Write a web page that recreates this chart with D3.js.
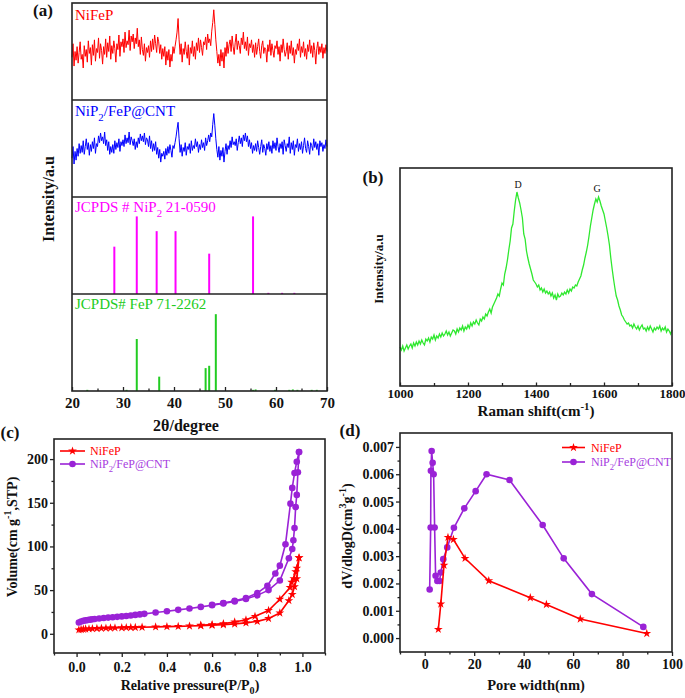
<!DOCTYPE html>
<html><head><meta charset="utf-8">
<script src="https://cdn.jsdelivr.net/npm/d3@7"></script>
<style>body{margin:0;background:#fff}svg{display:block}text{font-family:"Liberation Serif","Times New Roman",serif}</style>
</head><body><svg id="c" width="685" height="698"></svg>
<script>
// ---------- (a) XRD ----------
const xrdStart = 20, xrdStep = 0.2;
const xrdNiFeP = [
44,58,35,50,41, 55,38,49,60,42, 47,33,56,45,52, 39,61,48,54,36, 57,46,62,40,53,
49,64,43,58,51, 37,55,47,63,44, 59,50,66,42,56, 48,61,53,39,58, 52,67,45,60,55,
63,49,70,54,61, 57,72,51,66,60, 68,53,64,58,74, 55,62,47,65,52, 46,58,40,54,49,
56,44,61,50,63, 52,67,58,49,65, 60,48,57,42,53, 45,55,36,50,41, 52,34,47,40,55,
48,55,62,70,84, 62,47,58,39,53, 47,60,50,43,57, 36,54,48,61,45, 55,42,59,51,64,
49,62,54,46,60, 57,65,52,68,59, 63,56,71,80,93, 78,62,50,38,47, 35,52,40,49,33,
54,45,60,48,57, 62,50,66,55,47, 59,68,52,61,56, 48,64,57,70,53, 60,51,65,46,58,
54,62,49,57,44, 59,47,55,63,50, 43,56,61,48,54, 52,39,57,50,62, 46,58,51,44,56,
53,61,47,55,40, 57,49,63,52,45, 50,59,42,56,48, 61,46,54,38,52, 47,58,51,63,44,
55,49,60,45,53, 42,57,50,62,48, 56,44,59,51,37, 53,60,47,55,49, 58,43,54,48,57,
50];
const xrdCNT = [
40,52,34,47,38, 50,42,55,45,53, 46,58,44,52,60, 49,56,43,54,47, 57,50,61,45,55,
52,63,56,66,58, 62,55,67,53,59, 48,57,44,52,46, 54,45,58,49,56, 51,60,47,57,53,
59,52,64,55,61, 56,67,54,62,58, 53,60,49,57,51, 61,55,65,58,63, 57,66,54,61,59,
52,63,50,58,47, 55,48,57,44,51, 40,49,36,45,42, 47,39,50,43,52, 45,54,48,41,53,
50,56,62,70,77, 60,46,54,42,51, 47,56,43,52,49, 55,45,58,48,53, 50,60,52,57,46,
54,49,59,51,56, 48,61,53,58,64, 57,66,62,75,86, 74,60,49,41,52, 38,48,42,51,36,
47,55,44,53,49, 58,51,62,54,57, 53,60,48,56,63, 55,61,52,64,58, 66,57,63,52,59,
50,56,45,53,48, 55,47,58,51,44, 52,59,46,54,50, 43,55,49,57,47, 53,45,58,50,56,
48,61,52,46,55, 50,57,44,59,53, 47,55,51,62,45, 56,49,58,43,54, 51,60,47,55,49,
57,45,53,61,50, 46,58,52,44,56, 53,48,60,51,57, 49,55,43,58,52, 56,47,54,50,59,
52];
const nip2Pos = [28.3, 32.7, 36.6, 40.3, 46.9, 55.5, 58.5, 61.2, 63.6];
const nip2Int = [61, 100, 81, 81, 52, 100, 1.5, 1.5, 1.5];
const fepPos = [23.0, 30.7, 32.7, 37.1, 46.2, 46.9, 48.2, 55.5, 56.0, 59.8, 62.6, 63.3, 64.2, 67.0, 68.0];
const fepInt = [1.5, 1.5, 67, 18.5, 29.5, 32.5, 99, 1.5, 2, 1.5, 1.5, 2, 1.5, 1.5, 1.5];
const xrdTicks = [20, 30, 40, 50, 60, 70];

// ---------- (b) Raman ----------
const ramanStart = 1000, ramanStep = 4;
const ramanInt = [
39,36,40,35,38,41,37,40,42,38,
43,40,44,41,45,42,46,43,41,47,
45,48,44,49,47,51,46,50,48,52,
49,53,50,52,55,51,54,50,53,56,
55,52,57,54,58,56,60,55,59,57,
61,58,63,60,64,62,66,63,61,67,
65,69,67,72,70,74,77,73,79,82,
85,88,92,90,97,103,101,112,118,126,
136,145,158,162,175,186,194,188,183,176,
168,152,147,135,128,122,117,112,106,104,
102,99,101,96,98,94,97,93,95,92,
94,90,93,88,91,86,92,89,90,93,
91,94,92,96,93,97,95,99,98,101,
100,104,107,110,116,121,128,134,141,150,
160,168,176,182,187,184,189,185,180,176,
172,165,158,150,141,128,117,107,98,90,
86,80,76,71,69,66,64,62,63,60,
61,58,62,59,57,60,56,59,61,57,
58,55,59,56,60,57,54,58,56,59,
57,60,55,58,56,59,54,57,55,52,
56];
const ramanTicks = [1000, 1200, 1400, 1600, 1800];

// ---------- (c) N2 isotherms ----------
const niAdsP = [0.01,0.02,0.03,0.04,0.055,0.07,0.09,0.11,0.13,0.15,0.17,0.2,0.22,0.24,0.26,0.29,0.35,0.4,0.45,0.5,0.55,0.6,0.65,0.7,0.75,0.8,0.85,0.9,0.94,0.955,0.965,0.975,0.985];
const niAdsV = [4.5,5,5.2,5.5,5.7,5.9,6.1,6.3,6.5,6.7,6.8,7,7.1,7.2,7.3,7.5,7.9,8.2,8.5,8.9,9.3,9.8,10.4,11.3,12.5,14.2,17.6,23.8,38,45,54,63,87];
const niDesP = [0.985,0.975,0.97,0.962,0.952,0.945,0.9,0.85,0.79,0.75,0.7,0.65,0.6,0.55];
const niDesV = [87,75,71,63,59,53,39.5,26.7,20,16,13.5,11.6,10.5,9.8];
const cntAdsP = [0.01,0.02,0.03,0.04,0.05,0.06,0.07,0.08,0.1,0.12,0.14,0.16,0.18,0.2,0.22,0.24,0.26,0.28,0.3,0.35,0.4,0.45,0.5,0.55,0.6,0.65,0.7,0.75,0.8,0.85,0.9,0.94,0.955,0.96,0.965,0.97,0.975,0.98,0.985];
const cntAdsV = [13,14,14.8,15.3,15.8,16.2,16.6,16.9,17.5,18,18.5,19,19.4,19.9,20.4,21,21.6,22.2,22.8,24.3,25.8,27.4,29,30.8,32.7,34.8,37,39.8,44,50,61,86.5,97,107,121,145,159,185,208];
const cntDesP = [0.985,0.975,0.965,0.955,0.947,0.925,0.9,0.88,0.845,0.8,0.75,0.7,0.65,0.6];
const cntDesV = [208,197,184,167,149,102.5,78,69,55,46.5,41,37.8,35.3,33.3];
const isoXTicks = [0, 0.2, 0.4, 0.6, 0.8, 1.0];
const isoYTicks = [0, 50, 100, 150, 200];

// ---------- (d) pore size distribution ----------
const niPoreW = [5.5, 6.5, 7.8, 9.4, 11.6, 16.3, 25.9, 42.7, 49.2, 62.9, 89.8];
const niPoreD = [0.00032, 0.00125, 0.00267, 0.00369, 0.00361, 0.00292, 0.0021, 0.00148, 0.00123, 0.0007, 0.00017];
const cntPoreW = [2.0, 2.4, 2.5, 2.8, 3.2, 3.6, 4.0, 4.4, 5.1, 6.0, 6.5, 7.5, 9.1, 11.8, 16.0, 20.6, 25.0, 34.3, 47.7, 56.2, 67.6, 88.4];
const cntPoreD = [0.00178, 0.00405, 0.00613, 0.00685, 0.00642, 0.006, 0.00405, 0.00228, 0.00209, 0.00209, 0.0024, 0.00289, 0.00332, 0.00404, 0.00475, 0.00538, 0.006, 0.00579, 0.00414, 0.00292, 0.00161, 0.00041];
const poreXTicks = [0, 20, 40, 60, 80, 100];
const poreYTicks = [0, 0.001, 0.002, 0.003, 0.004, 0.005, 0.006, 0.007];

const RED = "#ff0000", BLUE = "#0000ff", MAG = "#ff00ff", GRN = "#22cc22", RAMAN = "#2fe82f", PUR = "#9a22d6", PURT = "#a63ce0";
const svg = d3.select("#c");

function rich(t, parts, fs) {
  let shift = 0;
  parts.forEach(([s, k]) => {
    const target = k === "sub" ? fs * 0.3 : k === "sup" ? -fs * 0.4 : 0;
    t.append("tspan").attr("dy", target - shift).attr("font-size", k === "n" ? fs : fs * 0.72).text(s);
    shift = target;
  });
  return t;
}
function frame(x0, y0, x1, y1) {
  svg.append("rect").attr("x", x0).attr("y", y0).attr("width", x1 - x0).attr("height", y1 - y0)
    .attr("fill", "none").attr("stroke", "#222").attr("stroke-width", 1.6);
}
function styleAxis(g, fs) {
  g.select(".domain").remove();
  g.selectAll("line").attr("stroke", "#222").attr("stroke-width", 1.3);
  g.selectAll("text").attr("font-size", fs).attr("font-weight", "bold").attr("fill", "#111")
    .attr("font-family", '"Liberation Serif","Times New Roman",serif');
}
function label(x, y, txt, fs, opts = {}) {
  const t = svg.append("text").attr("x", x).attr("y", y).attr("font-size", fs)
    .attr("font-weight", opts.bold === false ? "normal" : "bold").attr("fill", opts.color || "#111")
    .attr("text-anchor", opts.anchor || "middle");
  if (opts.rotate) t.attr("transform", `rotate(-90,${x},${y})`);
  if (Array.isArray(txt)) rich(t, txt, fs); else t.text(txt);
  return t;
}

// ================= Panel (a) =================
{
  const x = d3.scaleLinear().domain([20, 70]).range([72, 327]);
  const tops = [3, 100, 197, 294], H = 97;
  const angles = xrdNiFeP.map((_, i) => xrdStart + i * xrdStep);
  const traces = [[xrdNiFeP, RED], [xrdCNT, BLUE]];
  traces.forEach(([vals, col], k) => {
    const y = d3.scaleLinear().domain([0, 100]).range([tops[k] + H, tops[k]]);
    svg.append("path").datum(vals).attr("fill", "none").attr("stroke", col).attr("stroke-width", 1)
      .attr("d", d3.line().x((d, i) => x(angles[i])).y(d => y(d)));
  });
  const sticks = [[nip2Pos, nip2Int, MAG, 2], [fepPos, fepInt, GRN, 3]];
  sticks.forEach(([pos, inten, col, k]) => {
    const y = d3.scaleLinear().domain([0, 125]).range([tops[k] + H, tops[k]]);
    svg.append("g").selectAll("line").data(pos).join("line")
      .attr("x1", d => x(d)).attr("x2", d => x(d))
      .attr("y1", y(0)).attr("y2", (d, i) => y(inten[i]))
      .attr("stroke", col).attr("stroke-width", 2);
  });
  [100, 197, 294].forEach(yy => svg.append("line").attr("x1", 72).attr("x2", 327).attr("y1", yy).attr("y2", yy)
    .attr("stroke", "#222").attr("stroke-width", 1.6));
  const gMinor = svg.append("g").attr("transform", "translate(0,391)")
    .call(d3.axisBottom(x).tickValues([25, 35, 45, 55, 65]).tickSize(-2.5).tickFormat(""));
  styleAxis(gMinor, 15);
  const gx = svg.append("g").attr("transform", "translate(0,391)")
    .call(d3.axisBottom(x).tickValues(xrdTicks).tickSize(-4).tickPadding(6).tickFormat(d3.format("d")));
  styleAxis(gx, 15);
  frame(72, 3, 327, 391);
  label(75, 20, "NiFeP", 15, { bold: false, color: RED, anchor: "start" });
  label(75, 116, [["NiP", "n"], ["2", "sub"], ["/FeP@CNT", "n"]], 15, { bold: false, color: BLUE, anchor: "start" });
  label(75, 212, [["JCPDS # NiP", "n"], ["2", "sub"], [" 21-0590", "n"]], 15, { bold: false, color: MAG, anchor: "start" });
  label(75, 309, "JCPDS# FeP 71-2262", 15, { bold: false, color: GRN, anchor: "start" });
  label(186, 431, "2θ/degree", 16);
  label(54, 199, "Intensity/a.u", 16, { rotate: true });
  label(43, 16, "(a)", 17);
}

// ================= Panel (b) =================
{
  const x = d3.scaleLinear().domain([1000, 1800]).range([400, 672]);
  const y = d3.scaleLinear().domain([0, 218]).range([386, 168]);
  svg.append("path").datum(ramanInt).attr("fill", "none").attr("stroke", RAMAN).attr("stroke-width", 1.3)
    .attr("d", d3.line().x((d, i) => x(ramanStart + i * ramanStep)).y(d => y(d)));
  const gMinor = svg.append("g").attr("transform", "translate(0,386)")
    .call(d3.axisBottom(x).tickValues([1100, 1300, 1500, 1700]).tickSize(-3).tickFormat(""));
  styleAxis(gMinor, 13);
  const gx = svg.append("g").attr("transform", "translate(0,386)")
    .call(d3.axisBottom(x).tickValues(ramanTicks).tickSize(-3.5).tickPadding(3).tickFormat(d3.format("d")));
  styleAxis(gx, 13);
  frame(400, 168, 672, 386);
  label(518, 188, "D", 10, { bold: false });
  label(597, 192, "G", 10, { bold: false });
  label(536, 416, [["Raman shift(cm", "n"], ["-1", "sup"], [")", "n"]], 15);
  label(383, 269, "Intensity/a.u", 13, { rotate: true });
  label(373, 183, "(b)", 17);
}

// ================= Panel (c) =================
{
  const x = d3.scaleLinear().domain([-0.1, 1.1]).range([54, 325]);
  const y = d3.scaleLinear().domain([-22, 223]).range([653, 439]);
  const line = d3.line().x(d => x(d[0])).y(d => y(d[1]));
  const zip = (a, b) => a.map((v, i) => [v, b[i]]);
  const star = d3.symbol(d3.symbolStar, 24)();
  const series = [
    [zip(niAdsP, niAdsV), zip(niDesP, niDesV), RED, "star"],
    [zip(cntAdsP, cntAdsV), zip(cntDesP, cntDesV), PUR, "circle"]
  ];
  series.forEach(([ads, des, col, m]) => {
    [ads, des].forEach(pts => {
      svg.append("path").datum(pts).attr("fill", "none").attr("stroke", col).attr("stroke-width", 1.6).attr("d", line);
      const g = svg.append("g");
      if (m === "star") g.selectAll("path").data(pts).join("path").attr("d", star)
        .attr("transform", d => `translate(${x(d[0])},${y(d[1])})`).attr("fill", col);
      else g.selectAll("circle").data(pts).join("circle").attr("cx", d => x(d[0])).attr("cy", d => y(d[1]))
        .attr("r", 3.3).attr("fill", col);
    });
  });
  const gxm = svg.append("g").attr("transform", "translate(0,653)")
    .call(d3.axisBottom(x).tickValues([-0.1, 0.1, 0.3, 0.5, 0.7, 0.9, 1.1]).tickSize(2.5).tickFormat(""));
  styleAxis(gxm, 14);
  const gx = svg.append("g").attr("transform", "translate(0,653)")
    .call(d3.axisBottom(x).tickValues(isoXTicks).tickSize(4).tickPadding(5).tickFormat(d3.format(".1f")));
  styleAxis(gx, 14);
  const gym = svg.append("g").attr("transform", "translate(54,0)")
    .call(d3.axisLeft(y).tickValues([25, 75, 125, 175]).tickSize(2.5).tickFormat(""));
  styleAxis(gym, 14);
  const gy = svg.append("g").attr("transform", "translate(54,0)")
    .call(d3.axisLeft(y).tickValues(isoYTicks).tickSize(4).tickPadding(2).tickFormat(d3.format("d")));
  styleAxis(gy, 14);
  frame(54, 439, 325, 653);
  [[RED, "star", 451, [["NiFeP", "n"]]], [PUR, "circle", 464, [["NiP", "n"], ["2", "sub"], ["/FeP@CNT", "n"]]]].forEach(([col, m, yy, txt]) => {
    svg.append("line").attr("x1", 60).attr("x2", 85).attr("y1", yy).attr("y2", yy).attr("stroke", col).attr("stroke-width", 1.6);
    if (m === "star") svg.append("path").attr("d", star).attr("transform", `translate(72.5,${yy})`).attr("fill", col);
    else svg.append("circle").attr("cx", 72.5).attr("cy", yy).attr("r", 3.3).attr("fill", col);
    label(90, yy + 4, txt, 12, { bold: false, color: col === PUR ? PURT : col, anchor: "start" });
  });
  label(190, 690, [["Relative pressure(P/P", "n"], ["0", "sub"], [")", "n"]], 14);
  label(17, 537, [["Volume(cm g", "n"], ["-1", "sup"], [",STP)", "n"]], 14, { rotate: true });
  label(10, 438, "(c)", 17);
}

// ================= Panel (d) =================
{
  const x = d3.scaleLinear().domain([-10, 100]).range([400, 672]);
  const y = d3.scaleLinear().domain([-0.00051, 0.00751]).range([652, 433]);
  const line = d3.line().x(d => x(d[0])).y(d => y(d[1]));
  const zip = (a, b) => a.map((v, i) => [v, b[i]]);
  const star = d3.symbol(d3.symbolStar, 24)();
  const cnt = zip(cntPoreW, cntPoreD), ni = zip(niPoreW, niPoreD);
  svg.append("path").datum(cnt).attr("fill", "none").attr("stroke", PUR).attr("stroke-width", 1.6).attr("d", line);
  svg.append("g").selectAll("circle").data(cnt).join("circle").attr("cx", d => x(d[0])).attr("cy", d => y(d[1]))
    .attr("r", 3.3).attr("fill", PUR);
  svg.append("path").datum(ni).attr("fill", "none").attr("stroke", RED).attr("stroke-width", 1.6).attr("d", line);
  svg.append("g").selectAll("path").data(ni).join("path").attr("d", star)
    .attr("transform", d => `translate(${x(d[0])},${y(d[1])})`).attr("fill", RED);
  const gxm = svg.append("g").attr("transform", "translate(0,652)")
    .call(d3.axisBottom(x).tickValues([-10, 10, 30, 50, 70, 90]).tickSize(2.5).tickFormat(""));
  styleAxis(gxm, 14);
  const gx = svg.append("g").attr("transform", "translate(0,652)")
    .call(d3.axisBottom(x).tickValues(poreXTicks).tickSize(4).tickPadding(3).tickFormat(d3.format("d")));
  styleAxis(gx, 14);
  const gym = svg.append("g").attr("transform", "translate(400,0)")
    .call(d3.axisLeft(y).tickValues([0.0005, 0.0015, 0.0025, 0.0035, 0.0045, 0.0055, 0.0065]).tickSize(2.5).tickFormat(""));
  styleAxis(gym, 14);
  const gy = svg.append("g").attr("transform", "translate(400,0)")
    .call(d3.axisLeft(y).tickValues(poreYTicks).tickSize(4).tickPadding(2).tickFormat(d3.format(".3f")));
  styleAxis(gy, 14);
  frame(400, 433, 672, 652);
  [[RED, "star", 447.5, [["NiFeP", "n"]]], [PUR, "circle", 462, [["NiP", "n"], ["2", "sub"], ["/FeP@CNT", "n"]]]].forEach(([col, m, yy, txt]) => {
    svg.append("line").attr("x1", 562).attr("x2", 585).attr("y1", yy).attr("y2", yy).attr("stroke", col).attr("stroke-width", 1.6);
    if (m === "star") svg.append("path").attr("d", star).attr("transform", `translate(573.5,${yy})`).attr("fill", col);
    else svg.append("circle").attr("cx", 573.5).attr("cy", yy).attr("r", 3.3).attr("fill", col);
    label(591, yy + 4, txt, 12, { bold: false, color: col === PUR ? PURT : col, anchor: "start" });
  });
  label(536, 690, "Pore width(nm)", 14.5);
  label(352, 536, [["dV/dlogD(cm", "n"], ["3", "sup"], ["g", "n"], ["-1", "sup"], [")", "n"]], 14, { rotate: true });
  label(350, 436, "(d)", 17);
}
</script></body></html>
